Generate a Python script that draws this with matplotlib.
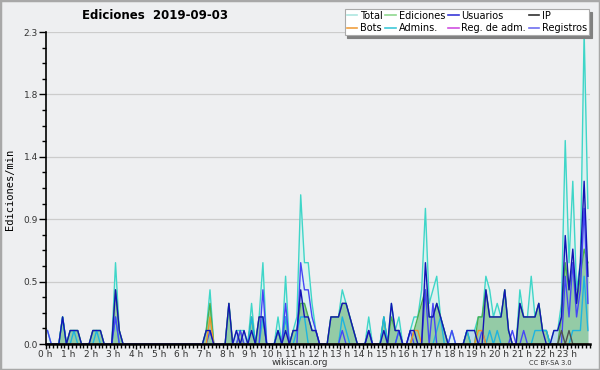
import matplotlib
matplotlib.use('Agg')
import matplotlib.pyplot as plt
import matplotlib.ticker as plticker
from matplotlib.patches import Rectangle

TITLE   = 'Ediciones  2019-09-03'
Y_LABEL = 'Ediciones/min'
FOOTER  = 'wikiscan.org'
LICENSE = 'CC BY-SA 3.0'

BINS_PER_HOUR = 6   # one point every 10 minutes

HOUR_LABELS   = ['%d h' % h for h in range(24)]
Y_TICKS       = [0.0, 0.46, 0.92, 1.38, 1.84, 2.3]
Y_TICK_LABELS = ['0.0', '0.5', '0.9', '1.4', '1.8', '2.3']

# edits per minute, one value per 10 minutes (4 hours per row)
TOTAL = [
    .1, 0, 0, 0, .2, 0, .1, .1, .1, 0, 0, 0, .1, .1, .1, 0, 0, 0, .6, .1, 0, 0, 0, 0,
    0, 0, 0, 0, 0, 0, 0, 0, 0, 0, 0, 0, 0, 0, 0, 0, 0, 0, .1, .4, 0, 0, 0, 0,
    .3, 0, .1, .1, .1, 0, .3, 0, .2, .6, 0, 0, 0, .2, 0, .5, 0, .1, .2, 1.1, .6, .6, .3, .1,
    0, 0, 0, .2, .2, .2, .4, .3, .2, .1, 0, 0, 0, .2, 0, 0, 0, .2, 0, .3, .1, .2, 0, 0,
    .1, .2, .2, .4, 1.0, .3, .4, .5, .2, .1, 0, .1, 0, 0, 0, .1, .1, .1, .2, .2, .5, .4, .2, .3,
    .2, .4, .1, 0, 0, .4, .2, .2, .5, .2, .3, .1, .1, 0, .1, .1, .3, 1.5, .6, 1.2, .4, .6, 2.3, 1.0,
]
EDITS = [
    0, 0, 0, 0, .2, 0, .1, .1, .1, 0, 0, 0, .1, .1, .1, 0, 0, 0, .4, .1, 0, 0, 0, 0,
    0, 0, 0, 0, 0, 0, 0, 0, 0, 0, 0, 0, 0, 0, 0, 0, 0, 0, .1, .3, 0, 0, 0, 0,
    .3, 0, 0, .1, 0, 0, .2, 0, .2, .2, 0, 0, 0, .1, 0, .2, 0, .1, .1, .3, .3, .2, .1, .1,
    0, 0, 0, .2, .2, .2, .3, .3, .2, .1, 0, 0, 0, .1, 0, 0, 0, .2, 0, .2, .1, .1, 0, 0,
    0, .1, .2, .3, .4, .2, .2, .3, .2, .1, 0, 0, 0, 0, 0, .1, 0, 0, .2, .2, .4, .2, .2, .2,
    .2, .4, .1, 0, 0, .3, .2, .2, .2, .2, .3, .1, .1, 0, 0, 0, .2, .6, .4, .6, .3, .5, .7, .6,
]
USERS = [
    0, 0, 0, 0, .2, 0, .1, .1, .1, 0, 0, 0, .1, .1, .1, 0, 0, 0, .4, .1, 0, 0, 0, 0,
    0, 0, 0, 0, 0, 0, 0, 0, 0, 0, 0, 0, 0, 0, 0, 0, 0, 0, .1, .1, 0, 0, 0, 0,
    .3, 0, .1, 0, .1, 0, .1, 0, .2, .2, 0, 0, 0, .1, 0, .1, 0, .1, .1, .4, .2, .2, .1, .1,
    0, 0, 0, .2, .2, .2, .3, .3, .2, .1, 0, 0, 0, .1, 0, 0, 0, .1, 0, .3, .1, .1, 0, 0,
    .1, .1, 0, 0, .6, .2, .2, .3, .2, .1, 0, 0, 0, 0, 0, .1, .1, .1, 0, 0, .4, .2, .2, .2,
    .2, .4, .1, 0, 0, .3, .2, .2, .2, .2, .3, .1, 0, 0, .1, .1, .2, .8, .4, .7, .3, .6, 1.2, .5,
]
IP = [
    0, 0, 0, 0, 0, 0, 0, 0, 0, 0, 0, 0, 0, 0, 0, 0, 0, 0, 0, 0, 0, 0, 0, 0,
    0, 0, 0, 0, 0, 0, 0, 0, 0, 0, 0, 0, 0, 0, 0, 0, 0, 0, 0, 0, 0, 0, 0, 0,
    0, 0, 0, 0, 0, 0, 0, 0, 0, 0, 0, 0, 0, 0, 0, 0, 0, 0, 0, 0, 0, 0, 0, 0,
    0, 0, 0, 0, 0, 0, 0, 0, 0, 0, 0, 0, 0, 0, 0, 0, 0, 0, 0, 0, 0, 0, 0, 0,
    0, 0, 0, 0, 0, 0, 0, 0, 0, 0, 0, 0, 0, 0, 0, 0, 0, 0, 0, 0, 0, 0, 0, 0,
    0, 0, 0, 0, 0, 0, 0, 0, 0, 0, 0, 0, 0, 0, 0, 0, .1, 0, .1, 0, 0, 0, 0, 0,
]
BOTS = [
    0, 0, 0, 0, 0, 0, 0, 0, 0, 0, 0, 0, 0, 0, 0, 0, 0, 0, 0, 0, 0, 0, 0, 0,
    0, 0, 0, 0, 0, 0, 0, 0, 0, 0, 0, 0, 0, 0, 0, 0, 0, 0, 0, .2, 0, 0, 0, 0,
    0, 0, 0, 0, 0, 0, 0, 0, 0, 0, 0, 0, 0, 0, 0, 0, 0, 0, 0, 0, 0, 0, 0, 0,
    0, 0, 0, 0, 0, 0, 0, 0, 0, 0, 0, 0, 0, 0, 0, 0, 0, 0, 0, 0, 0, 0, 0, 0,
    0, .1, .1, 0, 0, 0, 0, 0, 0, 0, 0, 0, 0, 0, 0, 0, 0, 0, .1, .1, 0, 0, 0, 0,
    0, 0, 0, 0, 0, 0, 0, 0, 0, 0, 0, 0, 0, 0, 0, 0, 0, 0, 0, 0, 0, 0, 0, 0,
]
ADMINS = [
    0, 0, 0, 0, .2, 0, 0, .1, 0, 0, 0, 0, 0, .1, 0, 0, 0, 0, .2, 0, 0, 0, 0, 0,
    0, 0, 0, 0, 0, 0, 0, 0, 0, 0, 0, 0, 0, 0, 0, 0, 0, 0, 0, 0, 0, 0, 0, 0,
    0, 0, 0, 0, 0, 0, .2, 0, 0, .2, 0, 0, 0, .1, 0, .2, 0, 0, .1, .2, .2, 0, 0, 0,
    0, 0, 0, 0, 0, 0, .2, .1, 0, 0, 0, 0, 0, 0, 0, 0, 0, .2, 0, 0, 0, .1, 0, 0,
    0, 0, 0, 0, 0, 0, 0, .1, .2, 0, 0, 0, 0, 0, 0, .1, 0, 0, 0, 0, 0, .1, 0, .1,
    0, 0, 0, 0, 0, 0, 0, 0, 0, .1, .1, .1, .1, 0, 0, 0, 0, 0, 0, .1, .1, .1, .5, .1,
]
ADMIN_LOGS = [0] * 144
LOGS = [
    .1, 0, 0, 0, 0, 0, 0, 0, 0, 0, 0, 0, 0, 0, 0, 0, 0, 0, .2, 0, 0, 0, 0, 0,
    0, 0, 0, 0, 0, 0, 0, 0, 0, 0, 0, 0, 0, 0, 0, 0, 0, 0, 0, .1, 0, 0, 0, 0,
    0, 0, 0, .1, 0, 0, 0, 0, 0, .4, 0, 0, 0, 0, 0, .3, 0, 0, 0, .6, .4, .4, .2, .1,
    0, 0, 0, 0, 0, 0, .1, 0, 0, 0, 0, 0, 0, .1, 0, 0, 0, 0, 0, 0, 0, .1, 0, 0,
    .1, 0, 0, 0, .4, 0, .3, 0, 0, 0, 0, .1, 0, 0, 0, 0, 0, 0, 0, .1, 0, 0, 0, 0,
    0, 0, 0, .1, 0, 0, .1, 0, 0, 0, 0, 0, 0, 0, 0, 0, 0, .5, .2, .6, .2, .4, 1.0, .3,
]

BG_COLOR    = '#eeeff1'
FONT_SIZE   = 6.5
LINE_WIDTH  = 1.0


#
# Function draws the whole chart and saves it
#
def main():
    # each point sits in the middle of its 10 minutes slot
    hours = [(i + 0.5) / BINS_PER_HOUR for i in range(len(TOTAL))]

    figure = plt.figure(figsize=(6, 3.7), dpi=100, facecolor=BG_COLOR)
    ax = figure.add_axes([0.076, 0.07, 0.907, 0.8435], facecolor=BG_COLOR)

    # filled areas
    ax.fill_between(hours, TOTAL, color='#dcf1f0', lw=0)
    ax.fill_between(hours, USERS, color='#bcd9ea', lw=0)
    ax.fill_between(hours, EDITS, color='#8dc99a', alpha=0.85, lw=0)

    # lines
    ax.plot(hours, TOTAL,      color='#3fd6c8', lw=LINE_WIDTH)
    ax.plot(hours, EDITS,      color='#4caf50', lw=LINE_WIDTH)
    ax.plot(hours, ADMIN_LOGS, color='#d050e0', lw=LINE_WIDTH)
    ax.plot(hours, ADMINS,     color='#1eb4e0', lw=LINE_WIDTH)
    ax.plot(hours, LOGS,       color='#4646f5', lw=LINE_WIDTH)
    ax.plot(hours, BOTS,       color='#f0962a', lw=LINE_WIDTH)
    ax.plot(hours, IP,         color='#505050', lw=LINE_WIDTH)
    ax.plot(hours, USERS,      color='#1414b4', lw=LINE_WIDTH)

    ax.set_xlim(0, 24)
    ax.set_ylim(0, 2.3)

    ax.set_xticks(range(24))
    ax.set_xticklabels(HOUR_LABELS)
    ax.xaxis.set_minor_locator(plticker.MultipleLocator(1.0 / BINS_PER_HOUR))
    ax.set_yticks(Y_TICKS)
    ax.set_yticklabels(Y_TICK_LABELS)
    ax.yaxis.set_minor_locator(plticker.MultipleLocator(0.115))

    ax.tick_params(axis='both', which='major', direction='out', labelsize=FONT_SIZE,
                   labelcolor='#333333', width=1, pad=0.5)
    ax.tick_params(axis='x', which='major', length=3.5)
    ax.tick_params(axis='x', which='minor', length=3, width=1)
    ax.tick_params(axis='y', which='major', length=5)
    ax.tick_params(axis='y', which='minor', length=3, width=1)

    ax.grid(axis='y', color='#cccccc', lw=0.9)
    ax.set_axisbelow(True)
    for side in ('top', 'right'):
        ax.spines[side].set_visible(False)
    ax.spines['left'].set_linewidth(1.2)
    ax.spines['bottom'].set_linewidth(1.8)

    # texts around the axes
    figure.text(0.258, 0.957, TITLE, ha='center', va='center', fontsize=8.5, weight='bold')
    figure.text(0.017, 0.487, Y_LABEL, ha='center', va='center', rotation=90,
                family='DejaVu Sans Mono', fontsize=7.5)
    figure.text(0.5, 0.021, FOOTER, ha='center', va='center', fontsize=6.5, color='#333333')
    figure.text(0.918, 0.019, LICENSE, ha='center', va='center', fontsize=4.8, color='#333333')

    # legend, filled column by column
    legend_items = [('Total', '#aee6e0'), ('Bots', '#f0a040'),
                    ('Ediciones', '#90d890'), ('Admins.', '#40c8d8'),
                    ('Usuarios', '#3838d8'), ('Reg. de adm.', '#d050e0'),
                    ('IP', '#303030'), ('Registros', '#7070f0')]
    handles = [plt.Line2D([], [], color=c, lw=1.2) for _, c in legend_items]
    labels  = [name for name, _ in legend_items]
    legend = figure.legend(handles, labels, ncol=4, loc='upper right',
                           bbox_to_anchor=(0.982, 0.976), fontsize=7,
                           handlelength=1.1, handletextpad=0.3, columnspacing=0.25,
                           labelspacing=0.22, borderpad=0.2, borderaxespad=0,
                           fancybox=False, shadow={'color': '#808080', 'alpha': 1},
                           framealpha=1)
    legend.get_frame().set_edgecolor('#aaaaaa')
    legend.get_frame().set_linewidth(0.8)

    # outer frame of the picture
    figure.patches.append(Rectangle((0, 0), 1, 1, transform=figure.transFigure,
                                    fill=False, edgecolor='#a8a8a8', lw=2.5))

    figure.savefig('out.png', dpi=100, facecolor=BG_COLOR)
    plt.close(figure)


if __name__ == '__main__':
    main()
